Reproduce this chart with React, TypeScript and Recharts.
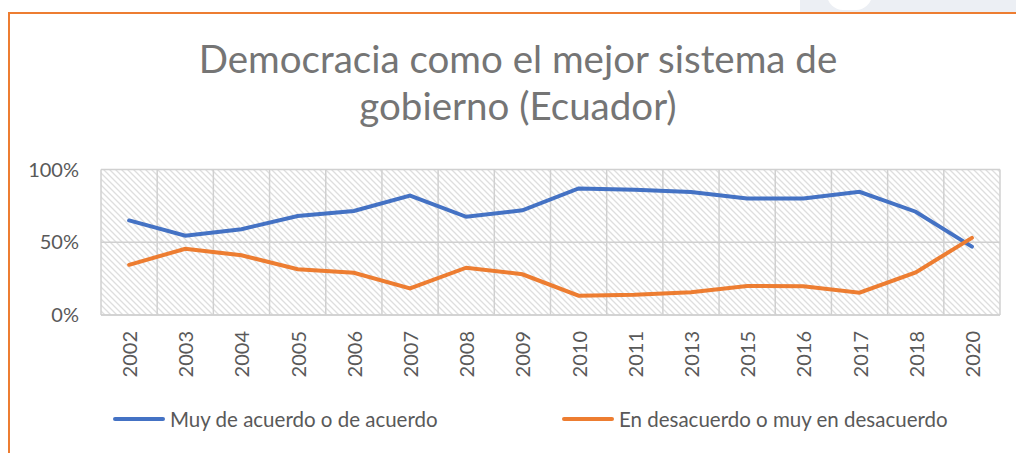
import { CartesianGrid, Legend, Line, LineChart, XAxis, YAxis } from 'recharts'

const years = ['2002', '2003', '2004', '2005', '2006', '2007', '2008', '2009', '2010', '2011', '2013', '2015', '2016', '2017', '2018', '2020']
const deAcuerdo = [65, 54.5, 59, 68, 71.5, 82, 67.5, 72, 87, 86, 84.5, 80, 80, 84.7, 71, 47]
const enDesacuerdo = [34.5, 45.5, 41, 31.5, 29, 18.3, 32.5, 28, 13.3, 14, 15.6, 20, 19.7, 15.3, 29.3, 53]
const yTicks = [0, 50, 100]

const seriesNames = ['Muy de acuerdo o de acuerdo', 'En desacuerdo o muy en desacuerdo']
const seriesColors = ['#4472c4', '#ed7d31']
const titleLines = ['Democracia como el mejor sistema de', 'gobierno (Ecuador)']

const data = years.map((year, i) => ({
  year,
  acuerdo: deAcuerdo[i],
  desacuerdo: enDesacuerdo[i],
}))

const FONT = 'Lato, "Open Sans", sans-serif'
const legendLeft = [113, 562]

const YearTick = (props: any) => {
  const { x, y, payload } = props
  return (
    <text
      transform={`translate(${x},${y + 10}) rotate(-90)`}
      textAnchor="end"
      dominantBaseline="central"
      fill="#595959"
      fontSize={20}
      fontFamily={FONT}
    >
      {payload.value}
    </text>
  )
}

// legend drawn in series order (Excel order), not the order recharts hands back
const renderLegend = () => (
  <div style={{ position: 'relative', height: 30, whiteSpace: 'nowrap' }}>
    {seriesNames.map((name, i) => (
      <div
        key={name}
        style={{ position: 'absolute', left: legendLeft[i], top: 0, height: 30, display: 'flex', alignItems: 'center' }}
      >
        <div style={{ width: 52, height: 4, borderRadius: 2, background: seriesColors[i], marginRight: 5 }} />
        <span style={{ fontSize: 20.5, color: '#595959', fontFamily: FONT }}>{name}</span>
      </div>
    ))}
  </div>
)

export default function App() {
  return (
    <div
      style={{
        position: 'absolute',
        left: 0,
        top: 0,
        width: 1016,
        height: 453,
        background: '#fff',
        overflow: 'hidden',
        fontFamily: FONT,
      }}
    >
      {/* slide background peeking above the frame */}
      <div style={{ position: 'absolute', left: 800, top: 0, width: 216, height: 12, background: '#eceff4' }} />
      <div style={{ position: 'absolute', left: 827, top: -24, width: 45, height: 34, borderRadius: 16, background: '#fff' }} />
      <div style={{ position: 'absolute', left: 8, top: 12, width: 1020, height: 460, borderTop: '2px solid #ed7d31', borderLeft: '2px solid #ed7d31', boxSizing: 'border-box' }} />

      <svg width={0} height={0} style={{ position: 'absolute' }}>
        <defs>
          <pattern id="hatch" patternUnits="userSpaceOnUse" width={6} height={6}>
            <rect width={6} height={6} fill="#fff" />
            <path d="M-1,-1 L7,7 M-1,5 L1,7 M5,-1 L7,1" stroke="#dedede" strokeWidth={1.3} />
          </pattern>
        </defs>
      </svg>

      <div
        style={{
          position: 'absolute',
          left: 18,
          top: 35,
          width: 1000,
          textAlign: 'center',
          fontSize: 38.5,
          lineHeight: '47px',
          color: '#757575',
        }}
      >
        {titleLines.map((t) => (
          <div key={t}>{t}</div>
        ))}
      </div>

      <div style={{ position: 'absolute', left: 0, top: 0 }}>
        <LineChart width={1016} height={453} data={data} margin={{ top: 169.5, right: 16, bottom: 19, left: 0 }}>
          <CartesianGrid
            stroke="#d0d0d0"
            strokeWidth={1.5}
            fill="url(#hatch)"
            fillOpacity={1}
            horizontalValues={yTicks}
            verticalCoordinatesGenerator={({ offset }: any) =>
              Array.from({ length: years.length + 1 }, (_, i) => offset.left + (i * offset.width) / years.length)
            }
          />
          <XAxis
            dataKey="year"
            scale="band"
            interval={0}
            height={89}
            tickLine={false}
            tickMargin={0}
            axisLine={{ stroke: '#d0d0d0', strokeWidth: 1.5 }}
            tick={<YearTick />}
          />
          <YAxis
            width={101}
            domain={[0, 100]}
            ticks={yTicks}
            tickFormatter={(v: number) => `${v}%`}
            axisLine={false}
            tickLine={false}
            tickMargin={16}
            tick={{ fill: '#595959', fontSize: 20, fontFamily: FONT }}
          />
          <Legend verticalAlign="bottom" height={30} content={renderLegend} wrapperStyle={{ left: 0, width: 1016 }} />
          <Line
            type="linear"
            dataKey="acuerdo"
            name={seriesNames[0]}
            stroke={seriesColors[0]}
            strokeWidth={4}
            strokeLinecap="round"
            dot={false}
            isAnimationActive={false}
          />
          <Line
            type="linear"
            dataKey="desacuerdo"
            name={seriesNames[1]}
            stroke={seriesColors[1]}
            strokeWidth={4}
            strokeLinecap="round"
            dot={false}
            isAnimationActive={false}
          />
        </LineChart>
      </div>
    </div>
  )
}
